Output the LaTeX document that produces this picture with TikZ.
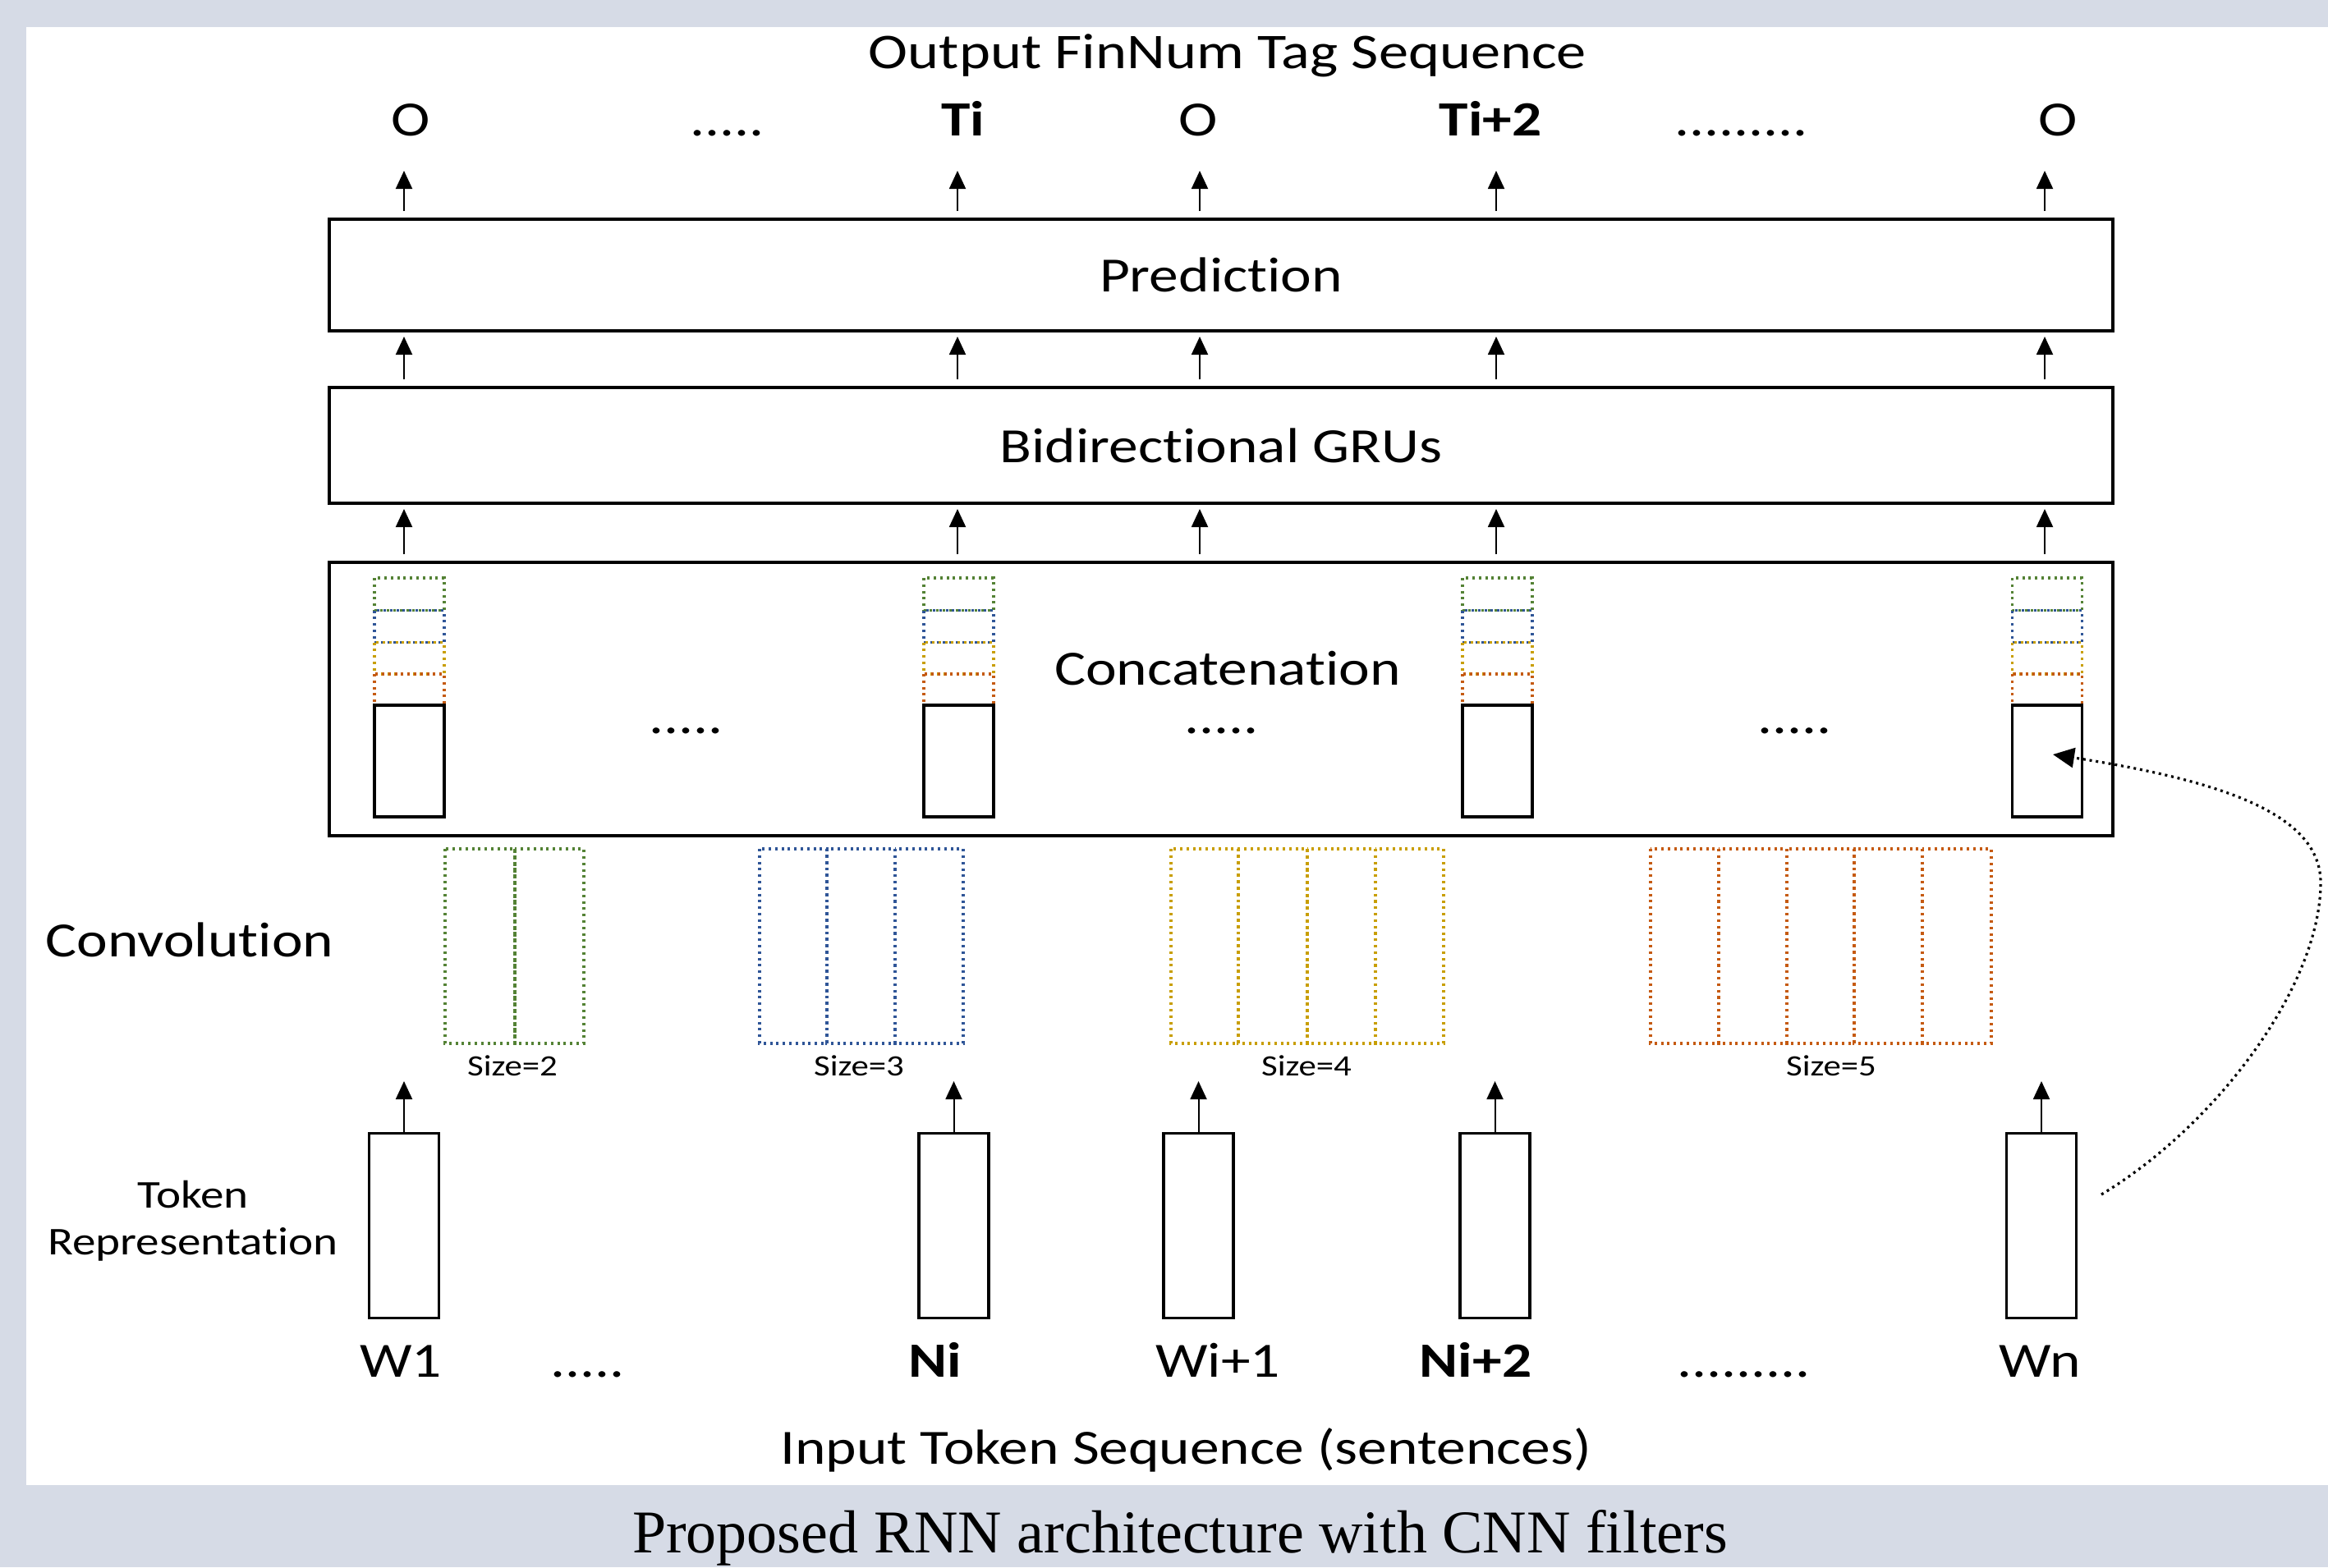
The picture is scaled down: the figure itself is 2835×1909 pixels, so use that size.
\documentclass[tikz,border=0pt]{standalone}
\usepackage{fontspec}
\setmainfont[FakeStretch=1.19,Ligatures=NoCommon]{Carlito}
\newfontfamily\capfont{Liberation Serif}
\usetikzlibrary{arrows.meta}
\definecolor{bgc}{RGB}{214,219,230}
\definecolor{cgreen}{RGB}{84,130,53}
\definecolor{cblue}{RGB}{47,85,151}
\definecolor{cgold}{RGB}{200,158,0}
\definecolor{corange}{RGB}{197,90,17}
\tikzset{
  lbl/.style={font=\fontsize{15}{18}\selectfont, inner sep=0pt, anchor=base},
  blbl/.style={font=\fontsize{15}{18}\selectfont\bfseries, inner sep=0pt, anchor=base},
  smalllbl/.style={font=\fontsize{9}{10}\selectfont, inner sep=0pt, anchor=base},
  bigbox/.style={draw, line width=1pt, inner sep=0pt, minimum width=543pt, font=\fontsize{15}{18}\selectfont},
  tokbox/.style={draw, line width=0.8pt, inner sep=0pt, minimum width=21.25pt, minimum height=56.25pt},
  catbox/.style={draw, line width=0.8pt, inner sep=0pt, minimum width=21.25pt, minimum height=34pt},
  arr/.style={-{Triangle[length=5.5pt,width=5pt]}, line width=0.5pt},
  dotline/.style={line width=0.8pt, dash pattern=on 0.75pt off 1.2pt},
}
\begin{document}
\begin{tikzpicture}[x=0.25pt,y=-0.25pt]
\useasboundingbox (0,0) rectangle (2835,1909);
\fill[bgc] (0,0) rectangle (2835,1909);
\fill[white] (32,33) rectangle (2835,1809);

% title and outputs
\node[lbl, font=\fontsize{15.2}{18}\selectfont] (title) at (1495,83) {Output FinNum Tag Sequence};
\node[lbl]  (o1) at (500,165)  {O};
\node[lbl]  (o2) at (886,165)  {.....};
\node[blbl] (o3) at (1173,165) {Ti};
\node[lbl]  (o4) at (1459,165) {O};
\node[blbl] (o5) at (1815,165) {Ti+2};
\node[lbl]  (o6) at (2121,165) {.........};
\node[lbl]  (o7) at (2506,165) {O};

% layer boxes
\node[bigbox, minimum height=34pt] (pred) at (1487,335) {Prediction};
\node[bigbox, minimum height=35.25pt] (gru) at (1487,542.5) {Bidirectional GRUs};
\node[bigbox, minimum height=83.25pt] (cat) at (1487,851.5) {};
\node[lbl] (catlbl) at (1495,834) {Concatenation};

% arrow columns
\foreach \i/\x in {1/492,2/1166,3/1461,4/1822,5/2490}{
  \coordinate (ta\i) at (\x,208);
  \coordinate (tb\i) at (\x,410);
  \coordinate (tc\i) at (\x,620);
  \draw[arr, shorten <=2pt] (pred.north -| ta\i) -- (ta\i);
  \draw[arr, shorten <=2pt] (gru.north -| tb\i) -- (tb\i);
  \draw[arr, shorten <=2pt] (cat.north -| tc\i) -- (tc\i);
}

% concatenation columns
\foreach \i/\x in {1/498.5,2/1167.5,3/1823.5,4/2493}{
  \draw[dotline, cgreen]  (\x-42.5,704) rectangle (\x+42.5,743.5);
  \draw[dotline, cblue]   (\x-42.5,743.5) rectangle (\x+42.5,782.5);
  \draw[dotline, cgold]   (\x-42.5,782.5) rectangle (\x+42.5,821);
  \draw[dotline, corange] (\x-42.5,821) rectangle (\x+42.5,859);
  \node[catbox, fill=white] (c\i) at (\x,927) {};
}
\node[lbl] (cd1) at (836,893) {.....};
\node[lbl] (cd2) at (1488,893) {.....};
\node[lbl] (cd3) at (2186,893) {.....};

% convolution filters
\node[lbl] (convlbl) at (231,1165) {Convolution};
\foreach \a/\b in {542/627,627/711}
  \draw[dotline, cgreen] (\a,1034) rectangle (\b,1271);
\foreach \a/\b in {925/1007,1007/1090,1090/1173}
  \draw[dotline, cblue] (\a,1034) rectangle (\b,1271);
\foreach \a/\b in {1426/1508,1508/1592,1592/1675,1675/1758}
  \draw[dotline, cgold] (\a,1034) rectangle (\b,1271);
\foreach \a/\b in {2010/2093,2093/2176,2176/2258,2258/2341,2341/2425}
  \draw[dotline, corange] (\a,1034) rectangle (\b,1271);
\node[smalllbl] (s2) at (624,1310) {Size=2};
\node[smalllbl] (s3) at (1046,1310) {Size=3};
\node[smalllbl] (s4) at (1591,1310) {Size=4};
\node[smalllbl] (s5) at (2230,1310) {Size=5};

% token representation
\node[font=\fontsize{12}{14}\selectfont, inner sep=0pt, anchor=base] (tok1) at (235,1471) {Token};
\node[font=\fontsize{12}{14}\selectfont, inner sep=0pt, anchor=base] (tok2) at (235,1528) {Representation};
\foreach \i/\x in {1/492,2/1161.5,3/1459.5,4/1820.5,5/2486}{
  \node[tokbox] (w\i) at (\x,1493) {};
  \coordinate (tw\i) at (\x,1317);
  \draw[arr] (w\i.north) -- (tw\i);
}

% inputs
\node[lbl]  (i1) at (488,1677)  {W1};
\node[lbl]  (i2) at (716,1677)  {.....};
\node[blbl] (i3) at (1139,1677) {Ni};
\node[lbl]  (i4) at (1483,1677) {Wi+1};
\node[blbl] (i5) at (1797,1677) {Ni+2};
\node[lbl]  (i6) at (2124,1677) {.........};
\node[lbl]  (i7) at (2484,1677) {Wn};
\node[lbl] (inlbl) at (1444,1783) {Input Token Sequence (sentences)};

% feedback curve
\coordinate (cs) at (2559,1455);
\coordinate (ce) at (2500,919);
\draw[line width=0.8pt, dash pattern=on 0.75pt off 1.2pt, -{Triangle[length=6.5pt,width=6pt]}]
  (cs) .. controls (2700,1370) and (2826,1200) .. (2826,1075)
       .. controls (2826,990) and (2700,950) .. (ce);

% caption
\node[font=\capfont\fontsize{18.5}{22}\selectfont, inner sep=0pt, anchor=base] (cap) at (1437,1891) {Proposed RNN architecture with CNN filters};
\end{tikzpicture}
\end{document}
